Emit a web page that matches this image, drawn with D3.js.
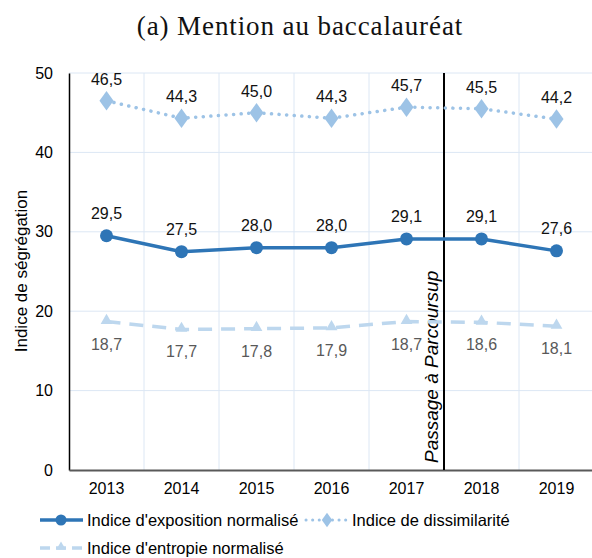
<!DOCTYPE html>
<html>
<head>
<meta charset="utf-8">
<script src="https://cdn.jsdelivr.net/npm/d3@7"></script>
<style>
  body { margin: 0; background: #fff; }
  svg { display: block; }
  text { font-family: "Liberation Sans", Arial, sans-serif; }
</style>
</head>
<body>
<svg id="chart" width="592" height="558"></svg>
<script>
// Data
var years = ['2013', '2014', '2015', '2016', '2017', '2018', '2019'];
var exposition = [29.5, 27.5, 28.0, 28.0, 29.1, 29.1, 27.6];
var dissimilarite = [46.5, 44.3, 45.0, 44.3, 45.7, 45.5, 44.2];
var entropie = [18.7, 17.7, 17.8, 17.9, 18.7, 18.6, 18.1];
var yTicks = [0, 10, 20, 30, 40, 50];

(function() {
var fmt = function(v) { return v.toFixed(1).replace('.', ','); };

var svg = d3.select('#chart');
var plotL = 69, plotR = 594, plotT = 73, plotB = 470;

var x = d3.scaleBand().domain(years).range([plotL, plotR]);
var y = d3.scaleLinear().domain([0, 50]).range([plotB, plotT]);

// title
svg.append('text')
  .attr('x', 300).attr('y', 35)
  .attr('text-anchor', 'middle')
  .style('font-family', '"Liberation Serif", "DejaVu Serif", serif')
  .style('font-size', '27px')
  .style('letter-spacing', '0.9px')
  .attr('fill', '#111')
  .text('(a) Mention au baccalauréat');

// grid
var grid = svg.append('g');
grid.selectAll('line.h').data(yTicks.slice(1)).enter().append('line')
  .attr('x1', plotL).attr('x2', plotR)
  .attr('y1', function(d) { return y(d); }).attr('y2', function(d) { return y(d); })
  .attr('stroke', '#dce7f4').attr('stroke-width', 1);
grid.selectAll('line.v').data(years.slice(1)).enter().append('line')
  .attr('x1', function(d) { return x(d); }).attr('x2', function(d) { return x(d); })
  .attr('y1', plotT).attr('y2', plotB)
  .attr('stroke', '#dce7f4').attr('stroke-width', 1);

// y axis
var yAxis = svg.append('g')
  .attr('transform', 'translate(' + plotL + ',0)')
  .call(d3.axisLeft(y).tickValues(yTicks).tickSize(0).tickPadding(16));
yAxis.select('.domain').attr('stroke', '#000').attr('stroke-width', 1.5);
yAxis.selectAll('text').style('font-size', '16px').attr('fill', '#000')
  .style('font-family', '"Liberation Sans", Arial, sans-serif');

// x axis
var xAxis = svg.append('g')
  .attr('transform', 'translate(0,' + plotB + ')')
  .call(d3.axisBottom(x).tickSize(0).tickPadding(13));
xAxis.select('.domain').attr('stroke', '#595959').attr('stroke-width', 2);
xAxis.selectAll('text').style('font-size', '16px').attr('fill', '#000')
  .style('font-family', '"Liberation Sans", Arial, sans-serif');

// y axis title
svg.append('text')
  .attr('transform', 'translate(27,271) rotate(-90)')
  .attr('text-anchor', 'middle')
  .style('font-size', '17px')
  .attr('fill', '#000')
  .text('Indice de ségrégation');

// Parcoursup line
var px = (x('2017') + x('2018') + x.bandwidth()) / 2;
svg.append('line')
  .attr('x1', px).attr('x2', px).attr('y1', plotT).attr('y2', plotB)
  .attr('stroke', '#000').attr('stroke-width', 2);
svg.append('text')
  .attr('transform', 'translate(' + (px - 6.5) + ',463) rotate(-90)')
  .style('font-size', '19px').style('font-style', 'italic')
  .attr('fill', '#000')
  .text('Passage à Parcoursup');

var cx = function(d, i) { return x(years[i]) + x.bandwidth() / 2; };
var line = d3.line().x(cx).y(function(d) { return y(d); });

// entropie
svg.append('path').datum(entropie)
  .attr('d', line).attr('fill', 'none')
  .attr('stroke', '#bdd7ee').attr('stroke-width', 3.5)
  .attr('stroke-dasharray', '14,9');
svg.selectAll('path.tri').data(entropie).enter().append('path')
  .attr('d', d3.symbol().type(d3.symbolTriangle).size(60))
  .attr('transform', function(d, i) { return 'translate(' + cx(d, i) + ',' + (y(d) - 1) + ')'; })
  .attr('fill', '#bdd7ee');
svg.selectAll('text.ent').data(entropie).enter().append('text')
  .attr('x', cx).attr('y', function(d) { return y(d) + 28; })
  .attr('text-anchor', 'middle')
  .style('font-size', '16px').attr('fill', '#595959')
  .text(fmt);

// dissimilarite
svg.append('path').datum(dissimilarite)
  .attr('d', line).attr('fill', 'none')
  .attr('stroke', '#9dc3e6').attr('stroke-width', 3.5)
  .attr('stroke-linecap', 'round')
  .attr('stroke-dasharray', '0.1,7.5');
svg.selectAll('path.dia').data(dissimilarite).enter().append('path')
  .attr('d', d3.symbol().type(d3.symbolDiamond).size(110))
  .attr('transform', function(d, i) { return 'translate(' + cx(d, i) + ',' + y(d) + ') scale(1.25,1)'; })
  .attr('fill', '#9dc3e6');
svg.selectAll('text.dis').data(dissimilarite).enter().append('text')
  .attr('x', cx).attr('y', function(d) { return y(d) - 16; })
  .attr('text-anchor', 'middle')
  .style('font-size', '16px').attr('fill', '#111')
  .text(fmt);

// exposition
svg.append('path').datum(exposition)
  .attr('d', line).attr('fill', 'none')
  .attr('stroke', '#2e75b6').attr('stroke-width', 3.5);
svg.selectAll('circle.exp').data(exposition).enter().append('circle')
  .attr('cx', cx).attr('cy', function(d) { return y(d); }).attr('r', 6.5)
  .attr('fill', '#2e75b6');
svg.selectAll('text.exp').data(exposition).enter().append('text')
  .attr('x', cx).attr('y', function(d) { return y(d) - 17; })
  .attr('text-anchor', 'middle')
  .style('font-size', '16px').attr('fill', '#111')
  .text(fmt);

// legend
var lg = svg.append('g');
var ly1 = 520, ly2 = 548;
lg.append('line').attr('x1', 40).attr('x2', 83).attr('y1', ly1).attr('y2', ly1)
  .attr('stroke', '#2e75b6').attr('stroke-width', 3.5);
lg.append('circle').attr('cx', 61).attr('cy', ly1).attr('r', 5.5).attr('fill', '#2e75b6');
lg.append('text').attr('x', 87).attr('y', ly1 + 6).style('font-size', '16.5px').attr('fill', '#000')
  .text("Indice d'exposition normalisé");

lg.append('line').attr('x1', 306).attr('x2', 346).attr('y1', ly1).attr('y2', ly1)
  .attr('stroke', '#9dc3e6').attr('stroke-width', 3).attr('stroke-linecap', 'round')
  .attr('stroke-dasharray', '0.1,6.5');
lg.append('path').attr('d', d3.symbol().type(d3.symbolDiamond).size(60))
  .attr('transform', 'translate(327,' + ly1 + ') scale(1.25,1)').attr('fill', '#9dc3e6');
lg.append('text').attr('x', 352).attr('y', ly1 + 6).style('font-size', '16.5px').attr('fill', '#000')
  .text('Indice de dissimilarité');

lg.append('line').attr('x1', 40).attr('x2', 83).attr('y1', ly2).attr('y2', ly2)
  .attr('stroke', '#bdd7ee').attr('stroke-width', 3.5).attr('stroke-dasharray', '10,6');
lg.append('path').attr('d', d3.symbol().type(d3.symbolTriangle).size(40))
  .attr('transform', 'translate(61,' + (ly2 - 1) + ')').attr('fill', '#bdd7ee');
lg.append('text').attr('x', 87).attr('y', ly2 + 6).style('font-size', '16.5px').attr('fill', '#000')
  .text("Indice d'entropie normalisé");
})();
</script>
</body>
</html>
